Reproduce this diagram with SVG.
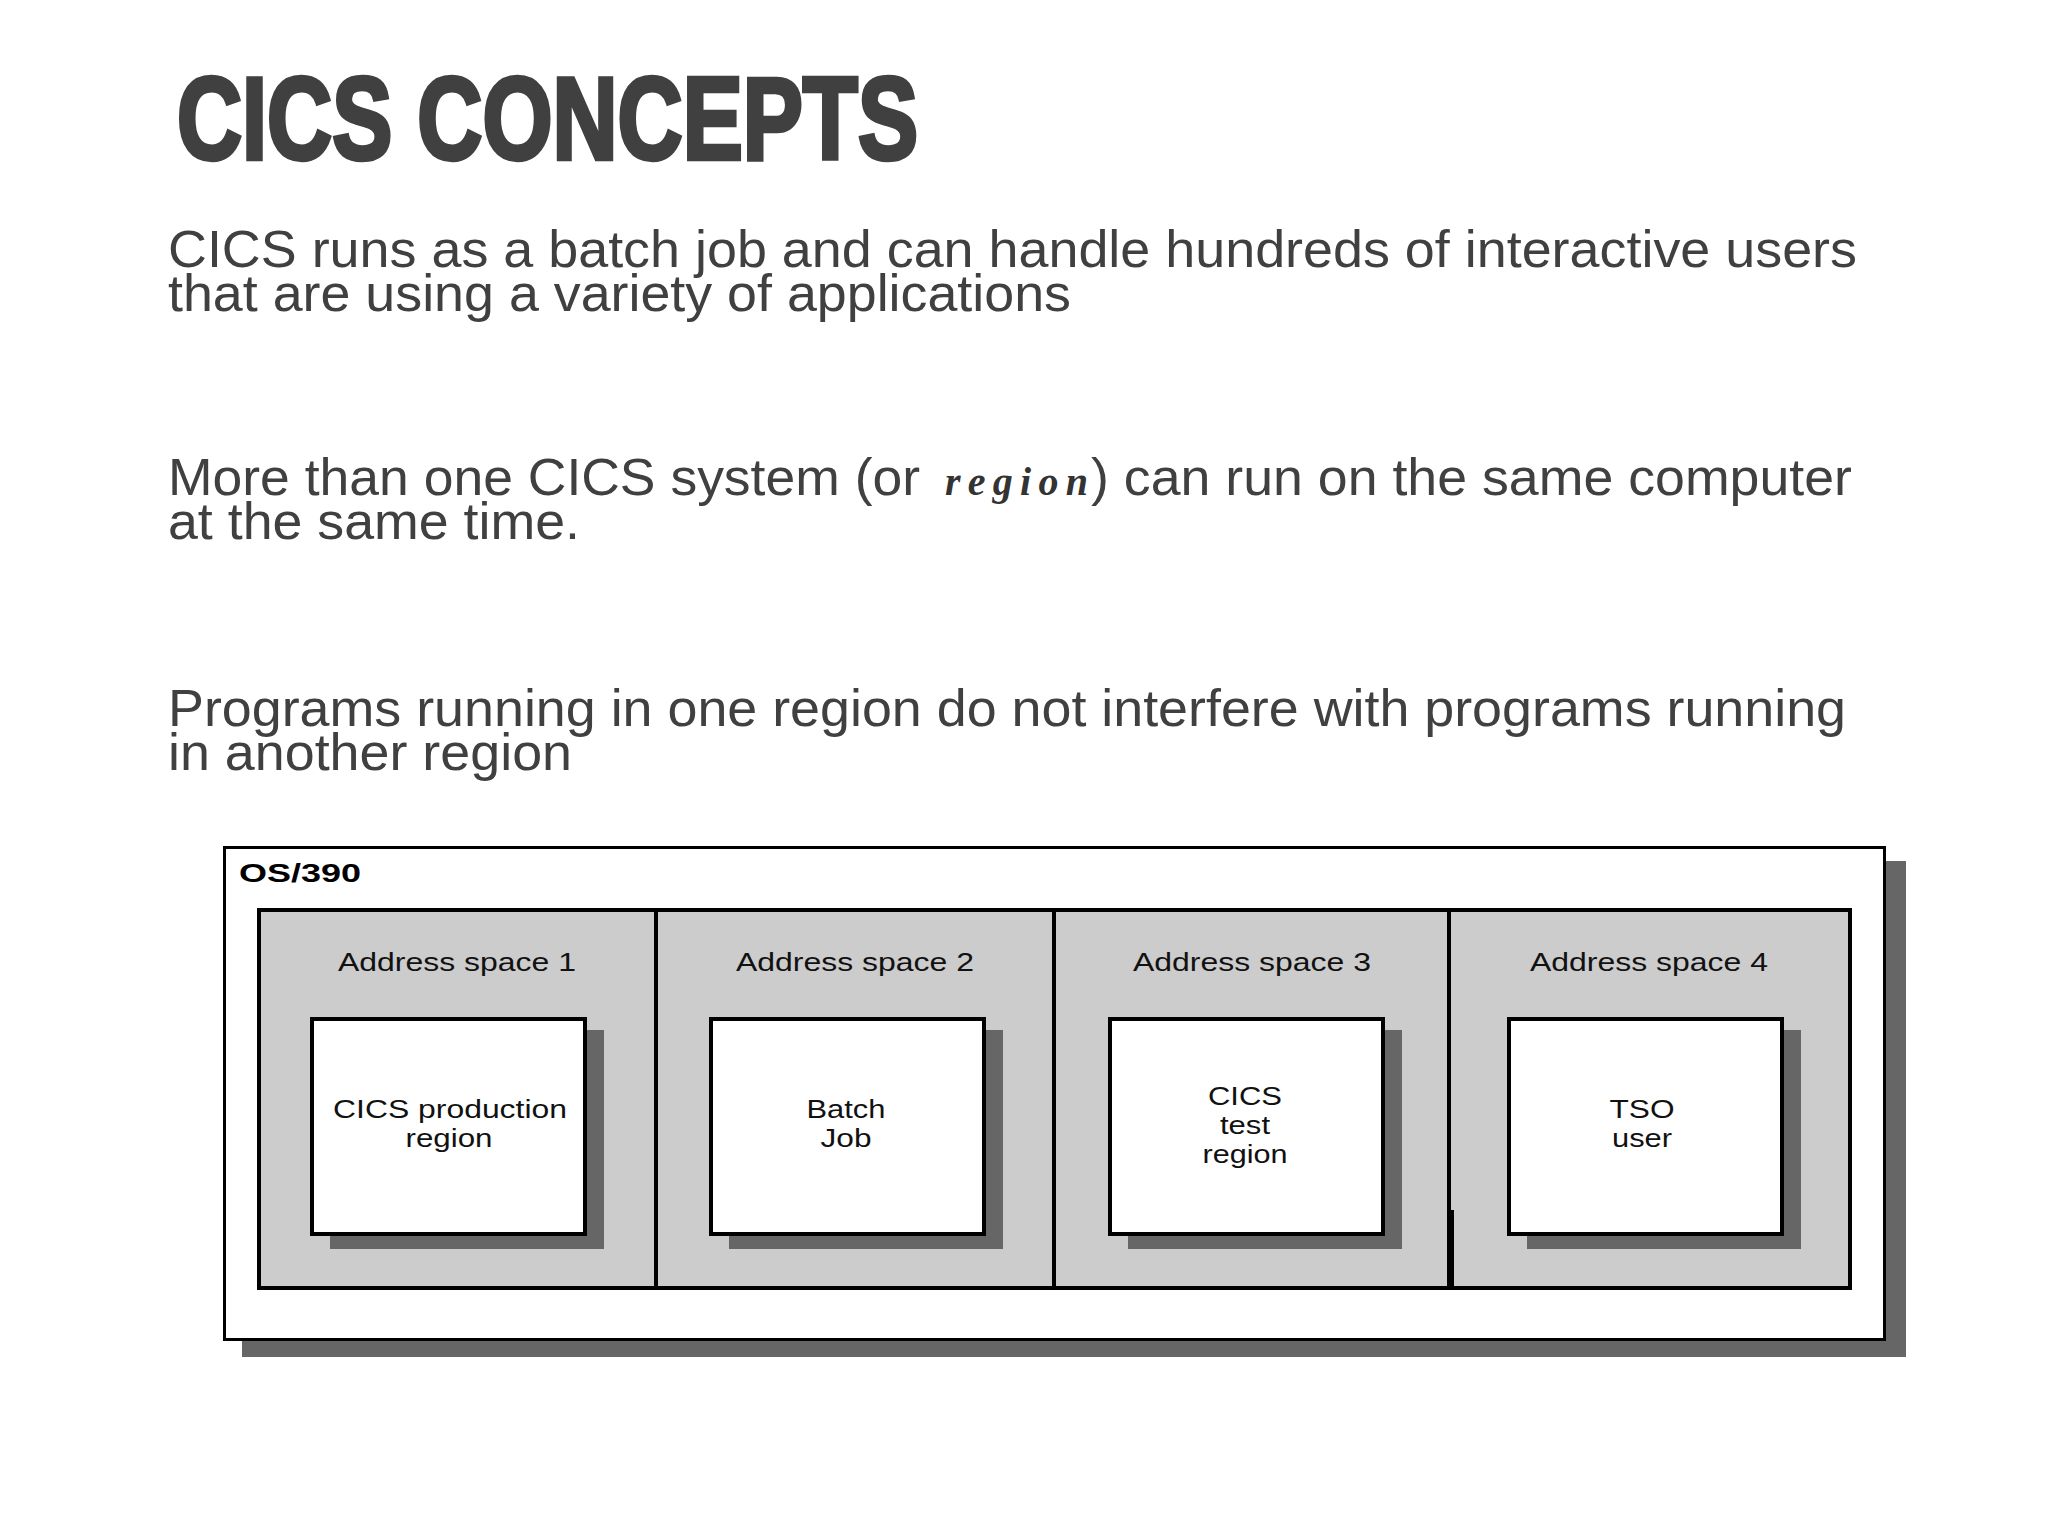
<svg xmlns="http://www.w3.org/2000/svg" width="2048" height="1536" viewBox="0 0 2048 1536">
<style>
.title{font-family:"Liberation Sans",Arial,sans-serif;font-weight:bold;font-size:116px;fill:#404040;stroke:#404040;stroke-width:4.5}
.body{font-family:"Liberation Sans",Arial,sans-serif;font-size:52px;fill:#404040}
.odd{font-family:"Liberation Serif","Times New Roman",serif;font-style:italic;font-weight:bold;font-size:40px;fill:#333}
.os{font-family:"Liberation Sans",Arial,sans-serif;font-weight:bold;font-size:26px;fill:#000}
.as{font-family:"Liberation Sans",Arial,sans-serif;font-size:26px;fill:#111;text-anchor:middle}
.lbl{font-family:"Liberation Sans",Arial,sans-serif;font-size:25px;fill:#111;text-anchor:middle}
.shadow{fill:#666666}
.box{fill:#ffffff;stroke:#000;stroke-width:4}
</style>
<rect width="2048" height="1536" fill="#ffffff"/>
<text class="title" x="177" y="159" textLength="741" lengthAdjust="spacingAndGlyphs">CICS CONCEPTS</text>
<text class="body" x="168" y="267" textLength="1689" lengthAdjust="spacingAndGlyphs">CICS runs as a batch job and can handle hundreds of interactive users</text>
<text class="body" x="168" y="311" textLength="903" lengthAdjust="spacingAndGlyphs">that are using a variety of applications</text>
<text class="body" x="168" y="495" textLength="752" lengthAdjust="spacingAndGlyphs">More than one CICS system (or</text>
<text class="odd" x="945" y="495" textLength="143" lengthAdjust="spacing">region</text>
<text class="body" x="1091" y="495" textLength="761" lengthAdjust="spacingAndGlyphs">) can run on the same computer</text>
<text class="body" x="168" y="539" textLength="412" lengthAdjust="spacingAndGlyphs">at the same time.</text>
<text class="body" x="168" y="726" textLength="1678" lengthAdjust="spacingAndGlyphs">Programs running in one region do not interfere with programs running</text>
<text class="body" x="168" y="770" textLength="404" lengthAdjust="spacingAndGlyphs">in another region</text>
<g id="os390">
<rect class="shadow" x="242" y="861" width="1664" height="496"/>
<rect x="224.5" y="847.5" width="1660" height="492" fill="#ffffff" stroke="#000" stroke-width="3"/>
<text class="os" x="239" y="882" textLength="122" lengthAdjust="spacingAndGlyphs">OS/390</text>
</g>
<g id="address-spaces">
<rect x="259" y="910" width="1591" height="378" fill="#cccccc" stroke="#000" stroke-width="4"/>
<line x1="656" y1="910" x2="656" y2="1288" stroke="#000" stroke-width="4"/>
<line x1="1054" y1="910" x2="1054" y2="1288" stroke="#000" stroke-width="4"/>
<line x1="1449" y1="910" x2="1449" y2="1288" stroke="#000" stroke-width="4"/>
<rect x="1449" y="1210" width="5" height="78" fill="#000"/>
</g>
<g id="as1">
<text class="as" x="457" y="971" textLength="238" lengthAdjust="spacingAndGlyphs">Address space 1</text>
<rect class="shadow" x="330" y="1030" width="274" height="219"/>
<rect class="box" x="312" y="1019" width="273" height="215"/>
<text class="lbl" x="450" y="1118" textLength="234" lengthAdjust="spacingAndGlyphs">CICS production</text>
<text class="lbl" x="449" y="1147" textLength="87" lengthAdjust="spacingAndGlyphs">region</text>
</g>
<g id="as2">
<text class="as" x="855" y="971" textLength="238" lengthAdjust="spacingAndGlyphs">Address space 2</text>
<rect class="shadow" x="729" y="1030" width="274" height="219"/>
<rect class="box" x="711" y="1019" width="273" height="215"/>
<text class="lbl" x="846" y="1118" textLength="79" lengthAdjust="spacingAndGlyphs">Batch</text>
<text class="lbl" x="846" y="1147" textLength="51" lengthAdjust="spacingAndGlyphs">Job</text>
</g>
<g id="as3">
<text class="as" x="1252" y="971" textLength="238" lengthAdjust="spacingAndGlyphs">Address space 3</text>
<rect class="shadow" x="1128" y="1030" width="274" height="219"/>
<rect class="box" x="1110" y="1019" width="273" height="215"/>
<text class="lbl" x="1245" y="1105" textLength="74" lengthAdjust="spacingAndGlyphs">CICS</text>
<text class="lbl" x="1245" y="1134" textLength="50" lengthAdjust="spacingAndGlyphs">test</text>
<text class="lbl" x="1245" y="1163" textLength="85" lengthAdjust="spacingAndGlyphs">region</text>
</g>
<g id="as4">
<text class="as" x="1649" y="971" textLength="238" lengthAdjust="spacingAndGlyphs">Address space 4</text>
<rect class="shadow" x="1527" y="1030" width="274" height="219"/>
<rect class="box" x="1509" y="1019" width="273" height="215"/>
<text class="lbl" x="1642" y="1118" textLength="65" lengthAdjust="spacingAndGlyphs">TSO</text>
<text class="lbl" x="1642" y="1147" textLength="60" lengthAdjust="spacingAndGlyphs">user</text>
</g>
<g id="connectors"></g>
</svg>
